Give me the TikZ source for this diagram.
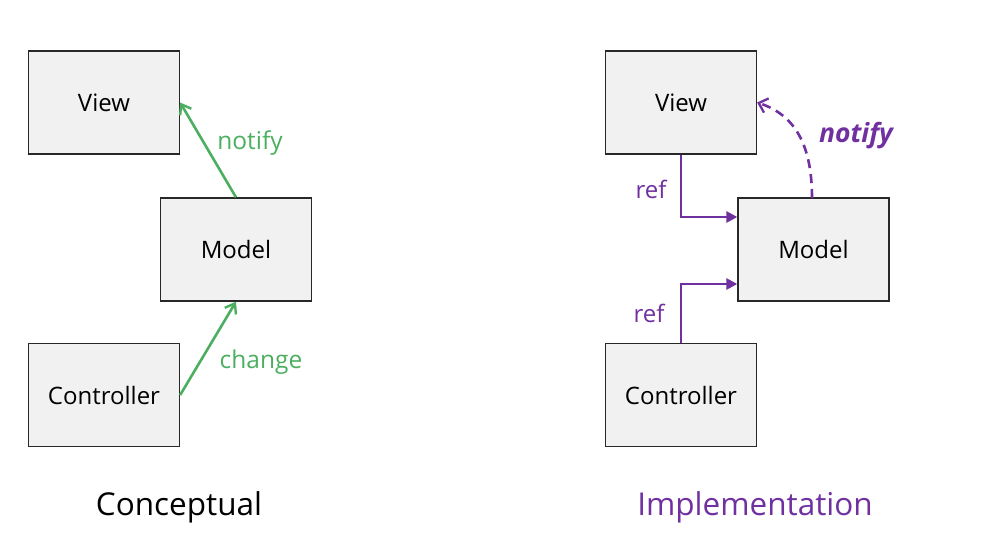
\documentclass[tikz,border=0pt]{standalone}
\usepackage{fontspec}
\setmainfont{Open Sans}
\usetikzlibrary{arrows.meta}
\definecolor{boxfill}{RGB}{241,241,241}
\definecolor{boxline}{RGB}{40,40,40}
\definecolor{mvcgreen}{RGB}{76,175,96}
\definecolor{mvcpurple}{RGB}{112,48,160}
\begin{document}
\begin{tikzpicture}[x=1pt,y=-1pt,
  mvcbox/.style={draw=boxline,line width=1.3pt,fill=boxfill,minimum width=151pt,minimum height=103pt,inner sep=0pt,font=\fontsize{24}{28}\selectfont},
  garrow/.style={draw=mvcgreen,line width=2.6pt,-{Straight Barb[length=9pt,width=13pt,line width=2.4pt]}},
  parrow/.style={draw=mvcpurple,line width=2.6pt,-{Triangle[length=11pt,width=11pt]}},
  pdash/.style={draw=mvcpurple,line width=2.6pt,dash pattern=on 9pt off 6pt,-{Straight Barb[length=8pt,width=15pt,line width=2.3pt]}},
  glabel/.style={text=mvcgreen,font=\fontsize{24.5}{28}\selectfont},
  plabel/.style={text=mvcpurple,font=\fontsize{24}{28}\selectfont},
  title/.style={font=\fontsize{31.5}{36}\selectfont}]
\useasboundingbox (0,0) rectangle (996,556);
% Conceptual
\node[mvcbox] (v1) at (104,102.5) {View};
\node[mvcbox] (m1) at (236,249.5) {Model};
\node[mvcbox] (c1) at (104,395) {Controller};
\draw[garrow] (m1.north) -- (v1.east);
\draw[garrow] (c1.east) -- (m1.south);
\node[glabel] (ln) at (250,143) {notify};
\node[glabel] (lc) at (261,362) {change};
\node[title] (t1) at (179,507) {Conceptual};
% Implementation
\node[mvcbox] (v2) at (681,102.5) {View};
\node[mvcbox] (m2) at (813.5,249.5) {Model};
\node[mvcbox] (c2) at (681,395) {Controller};
\coordinate (k1) at (v2.south |- 0,217);
\coordinate (k2) at (c2.north |- 0,284);
\draw[parrow] (v2.south) -- (k1) -- (k1 -| m2.west);
\draw[parrow] (c2.north) -- (k2) -- (k2 -| m2.west);
\coordinate (ds) at (812,198);
\draw[pdash] (ds) .. controls (812,145) and (795,115) .. (v2.east);
\node[plabel] (r1) at (651,189) {ref};
\node[plabel] (r2) at (649,313) {ref};
\node[plabel,font=\fontsize{26.5}{30}\selectfont\bfseries\itshape] (pn) at (856,136) {notify};
\node[title,text=mvcpurple] (t2) at (755,507) {Implementation};
\end{tikzpicture}
\end{document}
